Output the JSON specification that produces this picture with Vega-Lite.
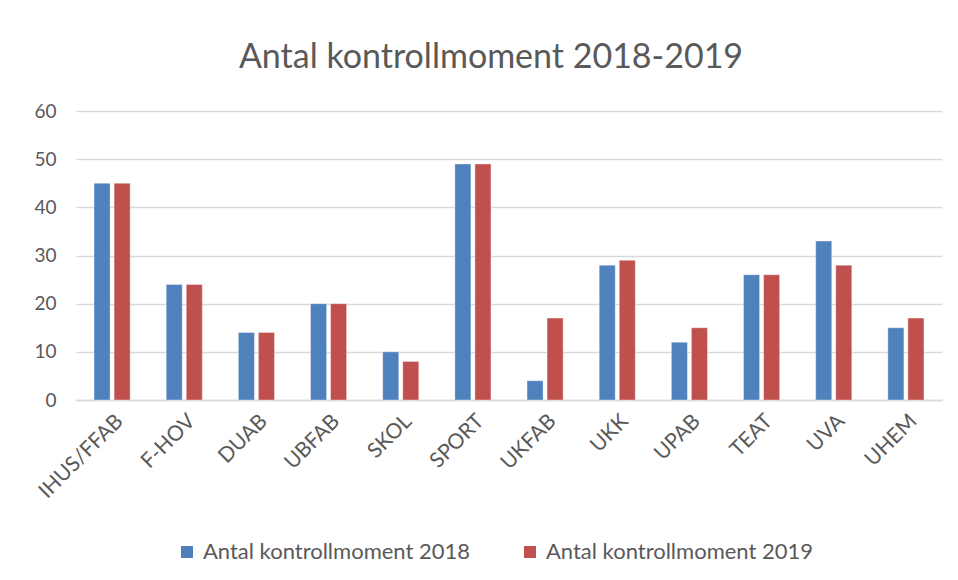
{
  "$schema": "https://vega.github.io/schema/vega-lite/v6.json",
  "width": 866,
  "height": 289,
  "autosize": {"type": "none"},
  "padding": {"left": 76, "top": 111, "right": 16, "bottom": 180},
  "background": "white",
  "title": {
    "text": "Antal kontrollmoment 2018-2019",
    "font": "Lato",
    "fontSize": 34,
    "fontWeight": "normal",
    "color": "#595959",
    "anchor": "middle",
    "dx": -18,
    "offset": 27
  },
  "data": {
    "values": [
      {"enhet": "IHUS/FFAB", "serie": "Antal kontrollmoment 2018", "antal": 45},
      {"enhet": "IHUS/FFAB", "serie": "Antal kontrollmoment 2019", "antal": 45},
      {"enhet": "F-HOV", "serie": "Antal kontrollmoment 2018", "antal": 24},
      {"enhet": "F-HOV", "serie": "Antal kontrollmoment 2019", "antal": 24},
      {"enhet": "DUAB", "serie": "Antal kontrollmoment 2018", "antal": 14},
      {"enhet": "DUAB", "serie": "Antal kontrollmoment 2019", "antal": 14},
      {"enhet": "UBFAB", "serie": "Antal kontrollmoment 2018", "antal": 20},
      {"enhet": "UBFAB", "serie": "Antal kontrollmoment 2019", "antal": 20},
      {"enhet": "SKOL", "serie": "Antal kontrollmoment 2018", "antal": 10},
      {"enhet": "SKOL", "serie": "Antal kontrollmoment 2019", "antal": 8},
      {"enhet": "SPORT", "serie": "Antal kontrollmoment 2018", "antal": 49},
      {"enhet": "SPORT", "serie": "Antal kontrollmoment 2019", "antal": 49},
      {"enhet": "UKFAB", "serie": "Antal kontrollmoment 2018", "antal": 4},
      {"enhet": "UKFAB", "serie": "Antal kontrollmoment 2019", "antal": 17},
      {"enhet": "UKK", "serie": "Antal kontrollmoment 2018", "antal": 28},
      {"enhet": "UKK", "serie": "Antal kontrollmoment 2019", "antal": 29},
      {"enhet": "UPAB", "serie": "Antal kontrollmoment 2018", "antal": 12},
      {"enhet": "UPAB", "serie": "Antal kontrollmoment 2019", "antal": 15},
      {"enhet": "TEAT", "serie": "Antal kontrollmoment 2018", "antal": 26},
      {"enhet": "TEAT", "serie": "Antal kontrollmoment 2019", "antal": 26},
      {"enhet": "UVA", "serie": "Antal kontrollmoment 2018", "antal": 33},
      {"enhet": "UVA", "serie": "Antal kontrollmoment 2019", "antal": 28},
      {"enhet": "UHEM", "serie": "Antal kontrollmoment 2018", "antal": 15},
      {"enhet": "UHEM", "serie": "Antal kontrollmoment 2019", "antal": 17}
    ]
  },
  "mark": {"type": "bar", "stroke": "white", "strokeWidth": 0.6, "strokeOpacity": 0.6},
  "encoding": {
    "x": {
      "field": "enhet",
      "type": "nominal",
      "sort": null,
      "scale": {"paddingInner": 0.5, "paddingOuter": 0.25},
      "axis": {
        "title": null,
        "labelAngle": -45,
        "labelAlign": "right",
        "labelBaseline": "top",
        "labelFont": "Lato",
        "labelFontSize": 21,
        "labelColor": "#595959",
        "labelPadding": 10,
        "ticks": false,
        "domain": true,
        "domainColor": "#d9d9d9",
        "domainWidth": 1.5,
        "grid": false
      }
    },
    "xOffset": {
      "field": "serie",
      "type": "nominal",
      "scale": {"paddingInner": 0.2}
    },
    "y": {
      "field": "antal",
      "type": "quantitative",
      "scale": {"domain": [0, 60]},
      "axis": {
        "title": null,
        "values": [0, 10, 20, 30, 40, 50, 60],
        "labelFont": "Lato",
        "labelFontSize": 19,
        "labelColor": "#595959",
        "labelPadding": 20,
        "ticks": false,
        "domain": false,
        "gridColor": "#d9d9d9",
        "gridWidth": 1.5
      }
    },
    "color": {
      "field": "serie",
      "type": "nominal",
      "scale": {
        "domain": ["Antal kontrollmoment 2018", "Antal kontrollmoment 2019"],
        "range": ["#4F81BD", "#C0504D"]
      },
      "legend": {
        "title": null,
        "orient": "none",
        "direction": "horizontal",
        "legendX": 100,
        "legendY": 430,
        "symbolType": "square",
        "symbolSize": 144,
        "symbolStrokeWidth": 0,
        "labelFont": "Lato",
        "labelFontSize": 22,
        "labelColor": "#595959",
        "labelOffset": 5,
        "columnPadding": 48,
        "labelLimit": 400
      }
    }
  },
  "config": {
    "view": {"stroke": null}
  }
}
